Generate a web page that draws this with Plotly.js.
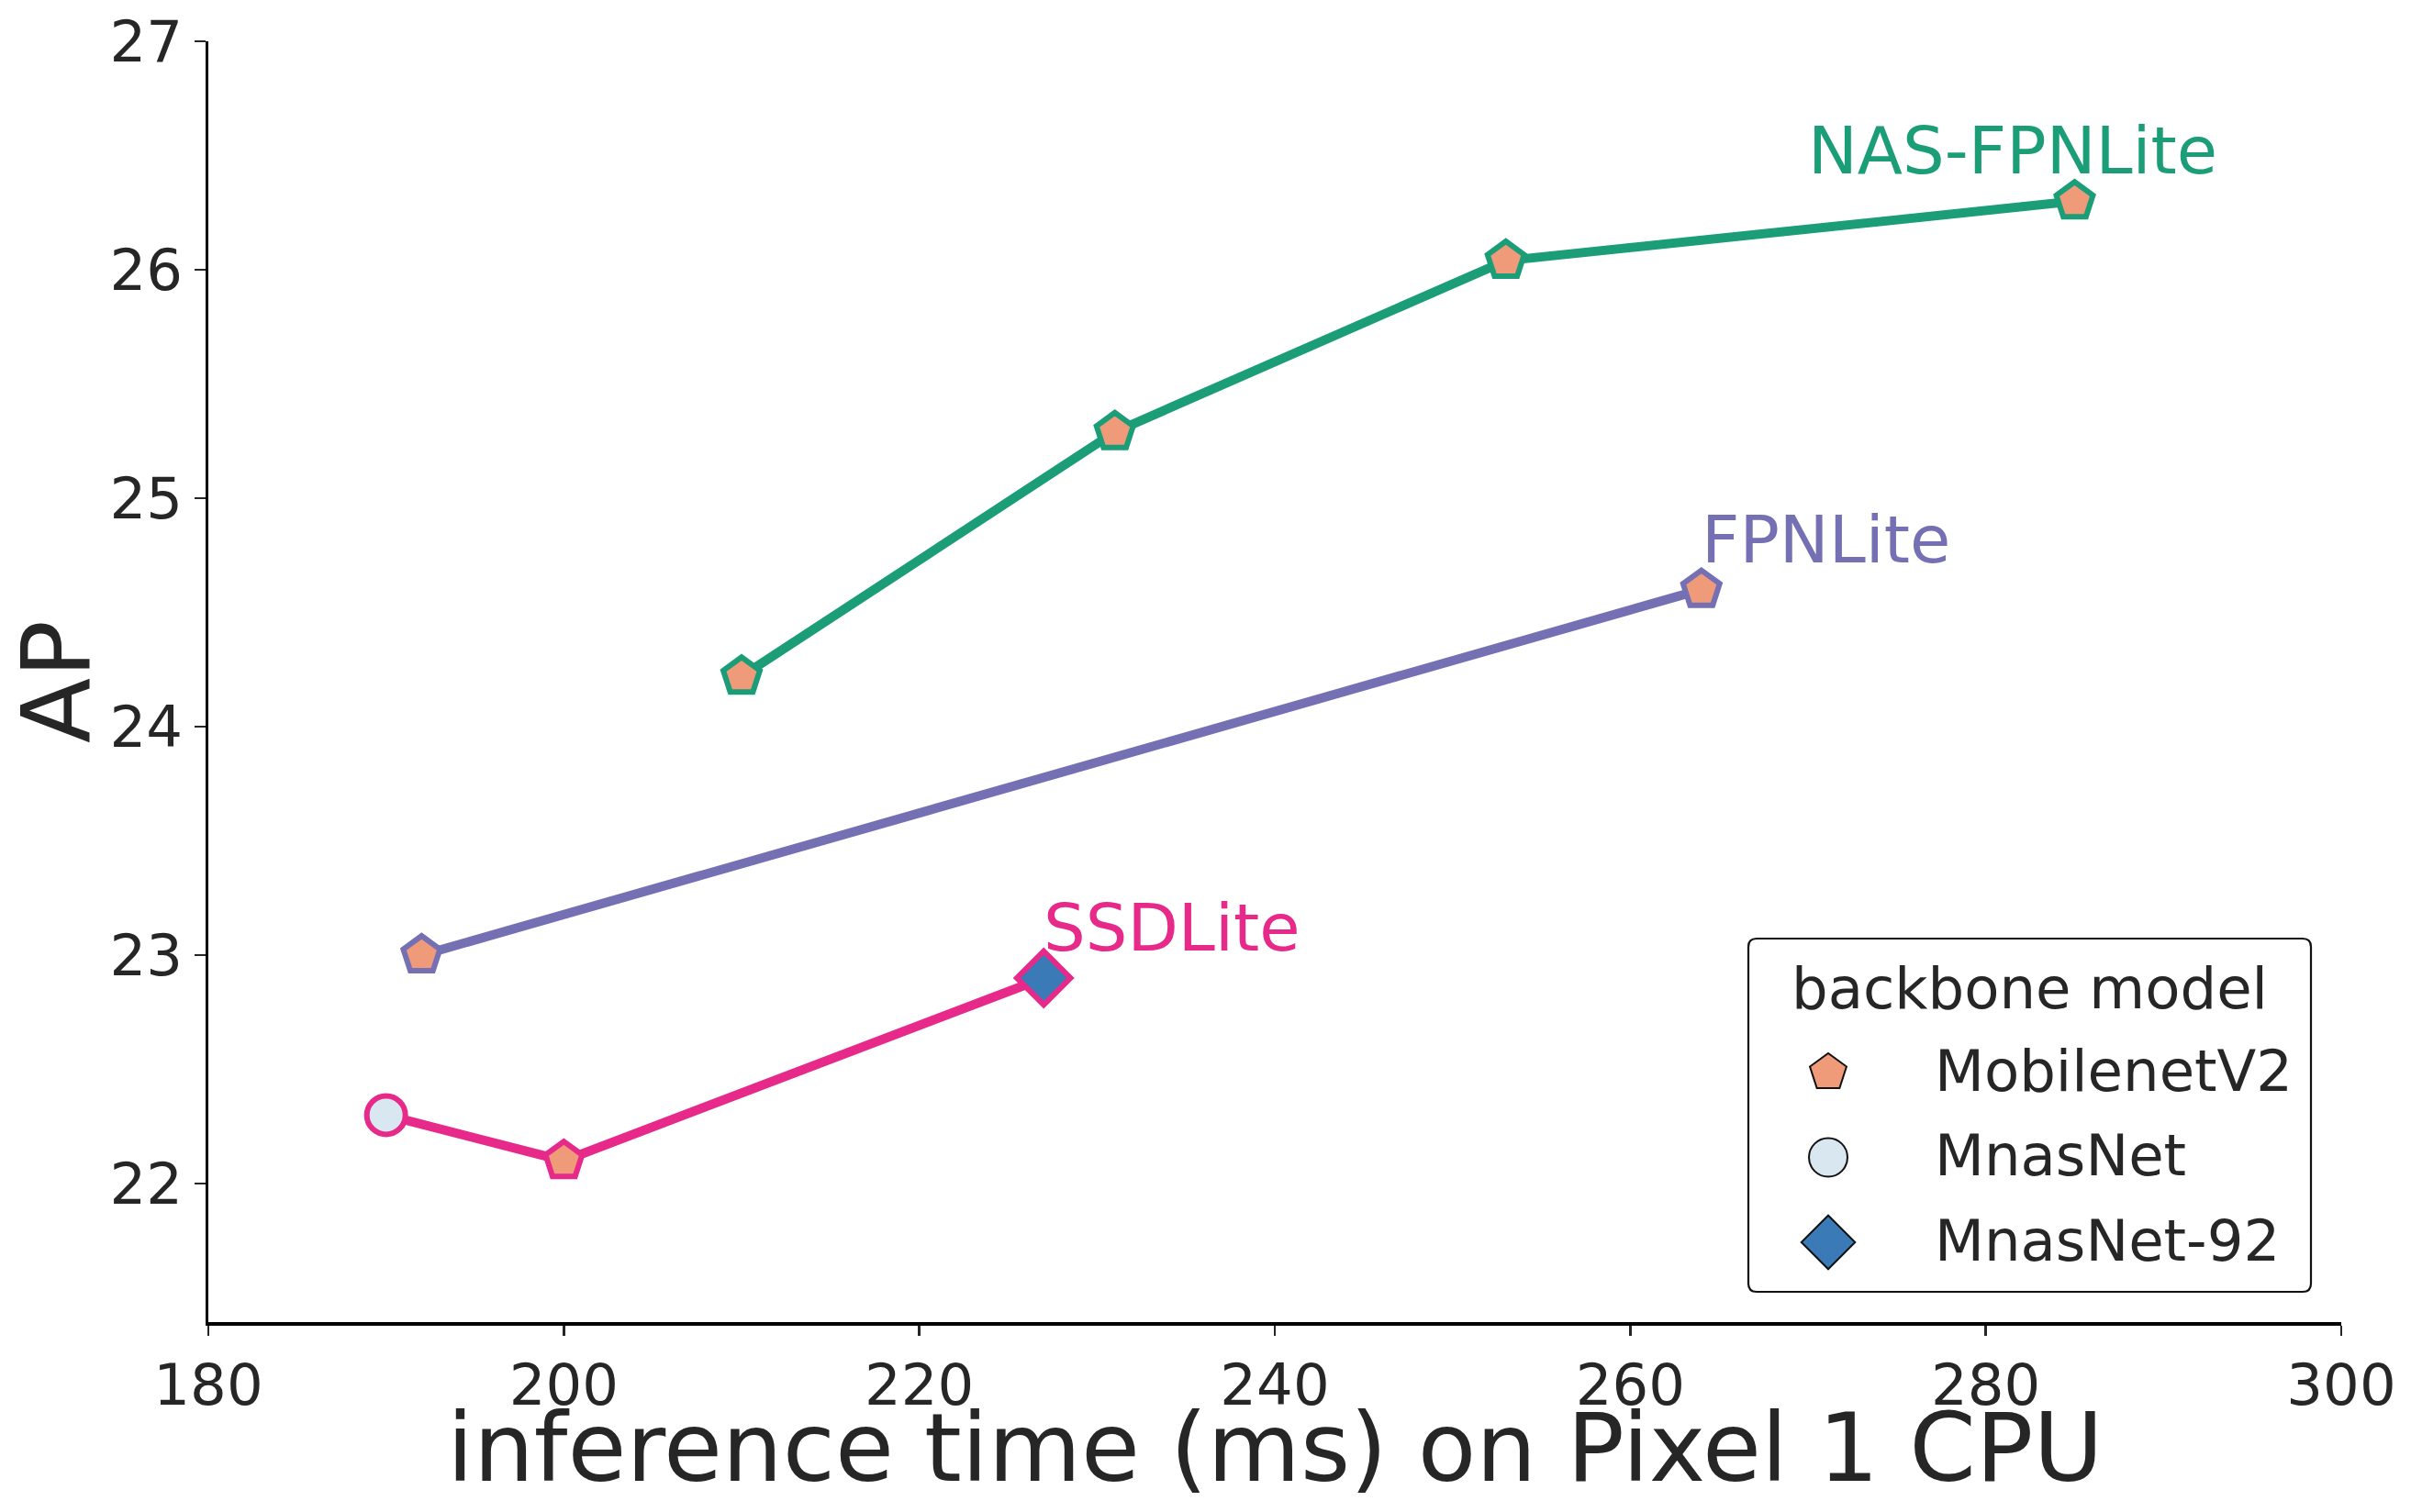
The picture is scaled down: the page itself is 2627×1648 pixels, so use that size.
<!DOCTYPE html>
<html>
<head>
<meta charset="utf-8">
<script src="https://cdn.plot.ly/plotly-3.0.1.min.js"></script>
<style>
  html, body { margin: 0; padding: 0; background: #ffffff; }
  #chart { width: 2627px; height: 1648px; }
</style>
</head>
<body>
<div id="chart"></div>
<script>
// ---------------- data ----------------
const ssdTime = [190, 200, 227];
const ssdAP = [22.3, 22.1, 22.9];
const ssdBackbone = ['MnasNet', 'MobilenetV2', 'MnasNet-92'];

const fpnTime = [192, 264];
const fpnAP = [23.0, 24.6];
const fpnBackbone = ['MobilenetV2', 'MobilenetV2'];

const nasTime = [210, 231, 253, 285];
const nasAP = [24.22, 25.29, 26.04, 26.3];
const nasBackbone = ['MobilenetV2', 'MobilenetV2', 'MobilenetV2', 'MobilenetV2'];

const seriesNames = ['SSDLite', 'FPNLite', 'NAS-FPNLite'];
const seriesColors = ['#e7298a', '#7570b3', '#1b9e77'];
const labelX = [227, 264, 270];
const labelY = [23.02, 24.72, 26.42];

const backbones = ['MobilenetV2', 'MnasNet', 'MnasNet-92'];
const backboneSymbols = ['pentagon', 'circle', 'diamond'];
const backboneFills = ['#ef9a79', '#d9e7f0', '#3a7bb7'];
const backboneSizes = [42, 42, 45];

const xTicks = [180, 200, 220, 240, 260, 280, 300];
const yTicks = [22, 23, 24, 25, 26, 27];
const xTitle = 'inference time (ms) on Pixel 1 CPU';
const yTitle = 'AP';
const legendTitle = 'backbone model';

// ---------------- helpers ----------------
const FONT = 'DejaVu Sans, Verdana, sans-serif';
const TXT = '#262626';
function bbIdx(b) { return backbones.indexOf(b); }

function seriesTrace(xs, ys, bbs, color, name) {
  return {
    type: 'scatter', mode: 'lines+markers', name: name, showlegend: false,
    x: xs, y: ys,
    line: { color: color, width: 10 },
    marker: {
      symbol: bbs.map(b => backboneSymbols[bbIdx(b)]),
      color: bbs.map(b => backboneFills[bbIdx(b)]),
      size: bbs.map(b => backboneSizes[bbIdx(b)]),
      opacity: 1,
      line: { color: color, width: 6 }
    },
    cliponaxis: false, hoverinfo: 'x+y'
  };
}

const traces = [
  seriesTrace(ssdTime, ssdAP, ssdBackbone, seriesColors[0], seriesNames[0]),
  seriesTrace(fpnTime, fpnAP, fpnBackbone, seriesColors[1], seriesNames[1]),
  seriesTrace(nasTime, nasAP, nasBackbone, seriesColors[2], seriesNames[2]),
  // legend key markers (drawn on a hidden helper axis)
  {
    type: 'scatter', mode: 'markers', showlegend: false,
    xaxis: 'x2', yaxis: 'y2',
    x: backbones.map(() => 0), y: backbones,
    marker: {
      symbol: backboneSymbols, color: backboneFills, size: backboneSizes,
      opacity: 1,
      line: { color: '#111111', width: 2 }
    },
    cliponaxis: false, hoverinfo: 'y'
  }
];

// plot area in pixels
const W = 2627, H = 1648;
const mL = 227, mR = 76, mT = 45, mB = 207;
const pw = W - mL - mR, ph = H - mT - mB;
function px2paperX(px) { return (px - mL) / pw; }
function px2paperY(py) { return (H - mB - py) / ph; }

// legend box (pixels)
const lgL = 1905, lgR = 2518, lgT = 1023, lgB = 1408, rad = 9;
const x0 = px2paperX(lgL), x1 = px2paperX(lgR), y0 = px2paperY(lgB), y1 = px2paperY(lgT);
const rx = rad / pw, ry = rad / ph;
const boxPath = `M ${x0 + rx},${y0} L ${x1 - rx},${y0} Q ${x1},${y0} ${x1},${y0 + ry} ` +
  `L ${x1},${y1 - ry} Q ${x1},${y1} ${x1 - rx},${y1} L ${x0 + rx},${y1} Q ${x0},${y1} ${x0},${y1 - ry} ` +
  `L ${x0},${y0 + ry} Q ${x0},${y0} ${x0 + rx},${y0} Z`;

const annotations = [];
seriesNames.forEach((n, i) => {
  annotations.push({
    x: labelX[i], y: labelY[i], xref: 'x', yref: 'y', text: n,
    showarrow: false, xanchor: 'left', yanchor: 'bottom', yshift: -19, xshift: -2,
    font: { family: FONT, size: 72, color: seriesColors[i] }
  });
});
backbones.forEach((b) => {
  annotations.push({
    x: 0, y: b, xref: 'x2', yref: 'y2', text: b,
    showarrow: false, xanchor: 'left', yanchor: 'middle', xshift: 114, yshift: 2,
    font: { family: FONT, size: 62.5, color: TXT }
  });
});
annotations.push({
  x: px2paperX((lgL + lgR) / 2), y: px2paperY(1097), xref: 'paper', yref: 'paper',
  text: legendTitle, showarrow: false, xanchor: 'center', yanchor: 'bottom', yshift: -19,
  font: { family: FONT, size: 62.5, color: TXT }
});
// x-axis title (as annotation so it can sit close to the canvas bottom)
annotations.push({
  x: 0.5, y: 0, xref: 'paper', yref: 'paper', text: xTitle,
  showarrow: false, xanchor: 'center', yanchor: 'top', yshift: -74,
  font: { family: FONT, size: 104, color: TXT }
});

// helper axis mapping for legend rows
const rowPx = [1169, 1262, 1354]; // MobilenetV2, MnasNet, MnasNet-92 centers
const step = (rowPx[2] - rowPx[0]) / 2;
const yr0 = -(lgB - rowPx[2]) / step;      // bottom category value
const yr1 = 2 + (rowPx[0] - lgT) / step;   // top
const xr0 = -(1992 - lgL) / (lgR - lgL);
const xr1 = xr0 + 1;

const layout = {
  width: W, height: H,
  margin: { l: mL, r: mR, t: mT, b: mB, pad: 0 },
  paper_bgcolor: '#ffffff', plot_bgcolor: 'rgba(0,0,0,0)',
  font: { family: FONT, color: TXT },
  showlegend: false,
  xaxis: {
    range: [180, 300], tickvals: xTicks, ticktext: xTicks.map(String),
    ticks: 'outside', ticklen: 11, tickwidth: 2.5, tickcolor: TXT,
    showline: true, linecolor: '#000000', linewidth: 3.5,
    showgrid: false, zeroline: false,
    tickfont: { family: FONT, size: 62.5, color: TXT },
    automargin: false
  },
  yaxis: {
    range: [21.394, 27], tickvals: yTicks, ticktext: yTicks.map(String),
    ticks: 'outside', ticklen: 12, tickwidth: 2.5, tickcolor: TXT,
    showline: true, linecolor: '#000000', linewidth: 3.5,
    showgrid: false, zeroline: false,
    tickfont: { family: FONT, size: 62.5, color: TXT },
    title: { text: yTitle, font: { family: FONT, size: 104, color: TXT }, standoff: 22 },
    automargin: false
  },
  xaxis2: {
    domain: [x0, x1], range: [xr0, xr1], anchor: 'y2',
    visible: false, showgrid: false, zeroline: false, fixedrange: true
  },
  yaxis2: {
    domain: [y0, y1], type: 'category', categoryarray: backbones.slice().reverse(),
    categoryorder: 'array', range: [yr0, yr1], anchor: 'x2',
    visible: false, showgrid: false, zeroline: false, fixedrange: true
  },
  shapes: [{
    type: 'path', xref: 'paper', yref: 'paper', path: boxPath,
    line: { color: '#111111', width: 2.2 }, fillcolor: 'rgba(255,255,255,0.85)', layer: 'below'
  }],
  annotations: annotations
};

Plotly.newPlot('chart', traces, layout, { staticPlot: true, displayModeBar: false });
</script>
</body>
</html>
